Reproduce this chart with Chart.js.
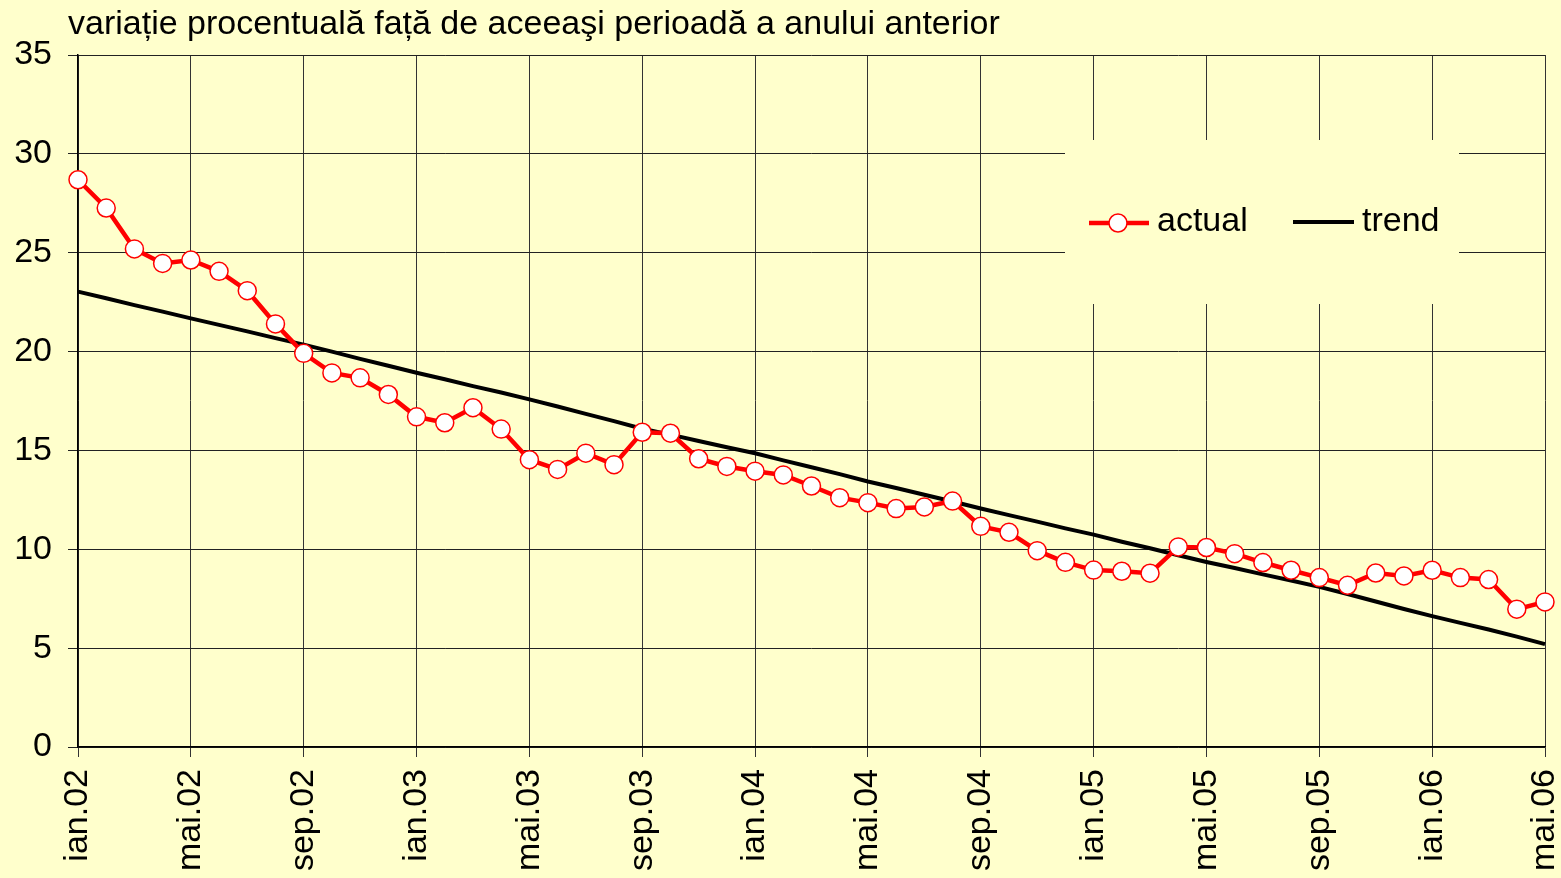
<!DOCTYPE html>
<html>
<head>
<meta charset="utf-8">
<script src="https://cdn.jsdelivr.net/npm/chart.js@4.4.0/dist/chart.umd.min.js"></script>
<style>
  html, body { margin: 0; padding: 0; background: #FFFFCC; }
  #wrap { width: 1561px; height: 878px; }
</style>
</head>
<body>
<div id="wrap"><canvas id="chart" width="1561" height="878"></canvas></div>
<script>
const monthNames = ['ian', 'feb', 'mar', 'apr', 'mai', 'iun', 'iul', 'aug', 'sep', 'oct', 'noi', 'dec'];
const years = ['02', '03', '04', '05', '06'];
const categories = [];
years.forEach(yr => monthNames.forEach(m => categories.push(m + '.' + yr)));
categories.length = 53; // ian.02 .. mai.06

const actualValues = [
  28.69, 27.26, 25.19, 24.46, 24.63, 24.06, 23.08, 21.40, 19.91, 18.92, 18.67, 17.83,
  16.70, 16.40, 17.16, 16.08, 14.53, 14.04, 14.86, 14.28, 15.92, 15.87, 14.58, 14.19,
  13.95, 13.76, 13.20, 12.61, 12.36, 12.06, 12.14, 12.44, 11.16, 10.86, 9.93, 9.34,
  8.95, 8.89, 8.79, 10.12, 10.09, 9.78, 9.33, 8.94, 8.57, 8.18, 8.80, 8.65,
  8.94, 8.57, 8.47, 6.97, 7.34
];
const trendValues = [
  23.03, 22.70, 22.35, 22.02, 21.68, 21.35, 21.02, 20.68, 20.35, 20.00, 19.63, 19.28,
  18.93, 18.60, 18.25, 17.93, 17.58, 17.22, 16.85, 16.48, 16.10, 15.80, 15.48, 15.16,
  14.86, 14.50, 14.15, 13.80, 13.43, 13.10, 12.76, 12.42, 12.06, 11.73, 11.40, 11.06,
  10.74, 10.38, 10.05, 9.70, 9.36, 9.05, 8.73, 8.42, 8.10, 7.74, 7.36, 6.98,
  6.62, 6.28, 5.94, 5.58, 5.20
];
const yTicks = { min: 0, max: 35, step: 5 };
const titleText = 'variație procentuală față de aceeaşi perioadă a anului anterior';

const FONT = "'Liberation Sans', Arial, sans-serif";
const BG = '#FFFFCC';

// title + legend box drawn inside the plot, over the grid
const decorations = {
  id: 'decorations',
  beforeDatasetsDraw(chart) {
    const ctx = chart.ctx;
    ctx.save();
    ctx.fillStyle = BG;
    ctx.fillRect(1065, 140, 394, 164);

    ctx.lineCap = 'butt';
    ctx.strokeStyle = '#FF0000';
    ctx.lineWidth = 4.5;
    ctx.beginPath();
    ctx.moveTo(1089, 223);
    ctx.lineTo(1149, 223);
    ctx.stroke();
    ctx.beginPath();
    ctx.arc(1118, 223, 9, 0, Math.PI * 2);
    ctx.fillStyle = '#FFFFFF';
    ctx.fill();
    ctx.lineWidth = 1.5;
    ctx.stroke();

    ctx.strokeStyle = '#000000';
    ctx.lineWidth = 4;
    ctx.beginPath();
    ctx.moveTo(1293, 222);
    ctx.lineTo(1354, 222);
    ctx.stroke();

    ctx.fillStyle = '#000000';
    ctx.font = '34px ' + FONT;
    ctx.textBaseline = 'middle';
    ctx.textAlign = 'left';
    ctx.fillText('actual', 1157, 222);
    ctx.fillText('trend', 1362, 222);

    ctx.textBaseline = 'alphabetic';
    ctx.fillText(titleText, 68, 34);
    ctx.restore();
  }
};

new Chart(document.getElementById('chart'), {
  type: 'line',
  data: {
    labels: categories,
    datasets: [{
      label: 'actual',
      data: actualValues,
      borderColor: '#FF0000',
      borderWidth: 4.5,
      pointRadius: 9,
      pointBackgroundColor: '#FFFFFF',
      pointBorderColor: '#FF0000',
      pointBorderWidth: 1.5,
      tension: 0,
      clip: false,
      order: 1
    }, {
      label: 'trend',
      data: trendValues,
      borderColor: '#000000',
      borderWidth: 4,
      pointRadius: 0,
      tension: 0,
      clip: false,
      order: 2
    }]
  },
  options: {
    responsive: false,
    animation: false,
    events: [],
    layout: { padding: { top: 55, right: 16, left: 0, bottom: 0 } },
    plugins: {
      legend: { display: false },
      title: { display: false },
      tooltip: { enabled: false }
    },
    scales: {
      x: {
        type: 'category',
        offset: false,
        border: { color: '#000', width: 1.5 },
        grid: {
          color: ctx => ctx.index % 4 === 0 ? '#333' : 'rgba(0,0,0,0)',
          lineWidth: 1,
          tickLength: 10
        },
        ticks: {
          autoSkip: false,
          minRotation: 90,
          maxRotation: 90,
          padding: 12,
          color: '#000',
          font: { family: FONT, size: 34 },
          callback: (v, i) => i % 4 === 0 ? categories[i] : ''
        },
        afterFit: scale => {
          scale.height = 131;
          scale.paddingRight = 0;
          scale.paddingLeft = 0;
        }
      },
      y: {
        min: yTicks.min,
        max: yTicks.max,
        border: { color: '#000', width: 1.5 },
        grid: { color: '#222', lineWidth: 1, tickLength: 10 },
        ticks: {
          stepSize: yTicks.step,
          padding: 16,
          color: '#000',
          font: { family: FONT, size: 34 }
        },
        afterFit: scale => { scale.width = 78; }
      }
    }
  },
  plugins: [decorations]
});
</script>
</body>
</html>
